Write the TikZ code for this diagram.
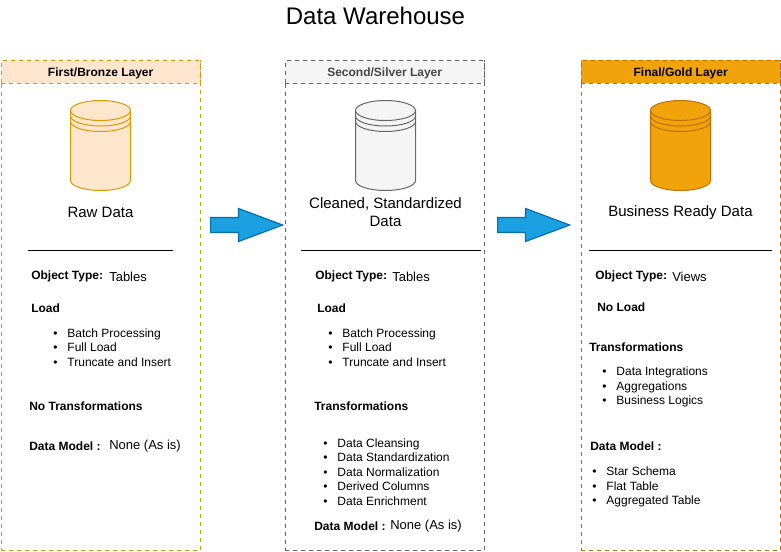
\documentclass[tikz,border=0pt]{standalone}
\usepackage{fontspec}
\setmainfont{Liberation Sans}
\usetikzlibrary{shapes.arrows}
\definecolor{bronzefill}{HTML}{FFE6CC}
\definecolor{bronzeline}{HTML}{D79B00}
\definecolor{silverfill}{HTML}{F5F5F5}
\definecolor{silverline}{HTML}{666666}
\definecolor{goldfill}{HTML}{F0A30A}
\definecolor{goldline}{HTML}{BD7000}
\definecolor{arrowfill}{HTML}{1BA1E2}
\definecolor{arrowline}{HTML}{006EAF}
\newcommand{\bulitem}{\textbullet\hspace{7.5pt}}
\newcommand{\headtext}[1]{\raisebox{-3.2pt}[0pt][0pt]{#1}}
\tikzset{
  panel/.style={draw,dashed,line width=0.75pt,minimum width=149.5pt,minimum height=367.5pt,anchor=north west,inner sep=0pt,outer sep=0pt},
  headbar/.style={draw,dashed,line width=0.75pt,minimum width=149.5pt,minimum height=17.25pt,anchor=north west,inner sep=0pt,outer sep=0pt,font=\bfseries\fontsize{9}{10.8}\selectfont},
  datalabel/.style={font=\fontsize{11.25}{13.5}\selectfont,align=center,inner sep=0pt},
  infotext/.style={anchor=west,inner sep=0pt,font=\fontsize{9}{10.9}\selectfont,align=left},
  infoval/.style={infotext,font=\fontsize{9.75}{11}\selectfont},
  infohead/.style={infotext,font=\bfseries\fontsize{9}{10.9}\selectfont},
  blockarrow/.style={single arrow,draw=arrowline,fill=arrowfill,line width=0.9pt,inner sep=5.2pt,single arrow head extend=6.7pt,single arrow tip angle=41,minimum height=54pt,anchor=west},
  pics/datastack/.style 2 args={code={
    \draw[fill=#1,draw=#2,line width=0.75pt](-30,10)--(-30,80)arc[start angle=180,end angle=0,x radius=30,y radius=10]--(30,10)arc[start angle=0,end angle=-180,x radius=30,y radius=10];
    \draw[draw=#2,line width=0.75pt](-30,10)arc[start angle=180,end angle=0,x radius=30,y radius=10]
      (-30,15.5)arc[start angle=180,end angle=0,x radius=30,y radius=10]
      (-30,21)arc[start angle=180,end angle=0,x radius=30,y radius=10];
  }}
}
\begin{document}
\begin{tikzpicture}[x=0.75pt,y=-0.75pt]
\useasboundingbox(0,0)rectangle(781,551);
% Title
\draw(375.5,15.5)node[inner sep=0pt,font=\fontsize{18}{20}\selectfont](title){Data Warehouse};

% Bronze panel
\draw(1,60.3)node[panel,draw=bronzeline](panel bronze){}
     (1,60.3)node[headbar,draw=bronzeline,fill=bronzefill](head bronze){\headtext{First/Bronze Layer}};
\draw(100.5,100.5)pic{datastack={bronzefill}{bronzeline}};
\draw(100.5,212.5)node[datalabel](label bronze){Raw Data};
\draw[line width=0.75pt](28,250.5)coordinate(rule bronze a)--(173,250.5)coordinate(rule bronze b);
\draw(31,276)node[infohead](type bronze){Object Type:}
     (109,276.5)node[infoval](typeval bronze){Tables}
     (31,308)node[infohead](load bronze){Load}
     (53,347.5)node[infotext](loadlist bronze){\bulitem Batch Processing\\\bulitem Full Load\\\bulitem Truncate and Insert}
     (29,406)node[infohead](trans bronze){No Transformations}
     (29,446)node[infohead](model bronze){Data Model :}
     (109,446.5)node[infoval](modelval bronze){None (As is)};

% Silver panel
\draw(285,60.3)node[panel,draw=silverline](panel silver){}
     (285,60.3)node[headbar,draw=silverline,fill=silverfill,text=silverline!70!black](head silver){\headtext{Second/Silver Layer}};
\draw(385.5,100.5)pic{datastack={silverfill}{silverline}};
\draw(385.5,212)node[datalabel](label silver){Cleaned, Standardized\\Data};
\draw[line width=0.75pt](301,250.5)coordinate(rule silver a)--(481,250.5)coordinate(rule silver b);
\draw(315,276)node[infohead](type silver){Object Type:}
     (392,276.5)node[infoval](typeval silver){Tables}
     (317,308)node[infohead](load silver){Load}
     (328,347.5)node[infotext](loadlist silver){\bulitem Batch Processing\\\bulitem Full Load\\\bulitem Truncate and Insert}
     (314,406)node[infohead](trans silver){Transformations}
     (323,472)node[infotext](translist silver){\bulitem Data Cleansing\\\bulitem Data Standardization\\\bulitem Data Normalization\\\bulitem Derived Columns\\\bulitem Data Enrichment}
     (314,526)node[infohead](model silver){Data Model :}
     (390,526.5)node[infoval](modelval silver){None (As is)};

% Gold panel
\draw(581,60.3)node[panel,draw=goldline](panel gold){}
     (581,60.3)node[headbar,draw=goldline,fill=goldfill](head gold){\headtext{Final/Gold Layer}};
\draw(680.5,100.5)pic{datastack={goldfill}{goldline}};
\draw(680.5,212.5)node[datalabel](label gold){Business Ready Data};
\draw[line width=0.75pt](589,250.5)coordinate(rule gold a)--(772,250.5)coordinate(rule gold b);
\draw(595,276)node[infohead](type gold){Object Type:}
     (672,276.5)node[infoval](typeval gold){Views}
     (597,307)node[infohead](load gold){No Load}
     (589,347)node[infohead](trans gold){Transformations}
     (602,387)node[infotext](translist gold){\bulitem Data Integrations\\\bulitem Aggregations\\\bulitem Business Logics}
     (590,446)node[infohead](model gold){Data Model :}
     (592,487)node[infotext](modellist gold){\bulitem Star Schema\\\bulitem Flat Table\\\bulitem Aggregated Table};

% Arrows between the layers
\draw(210,225)node[blockarrow](arrow first){};
\draw(497,225)node[blockarrow](arrow second){};
\end{tikzpicture}
\end{document}
